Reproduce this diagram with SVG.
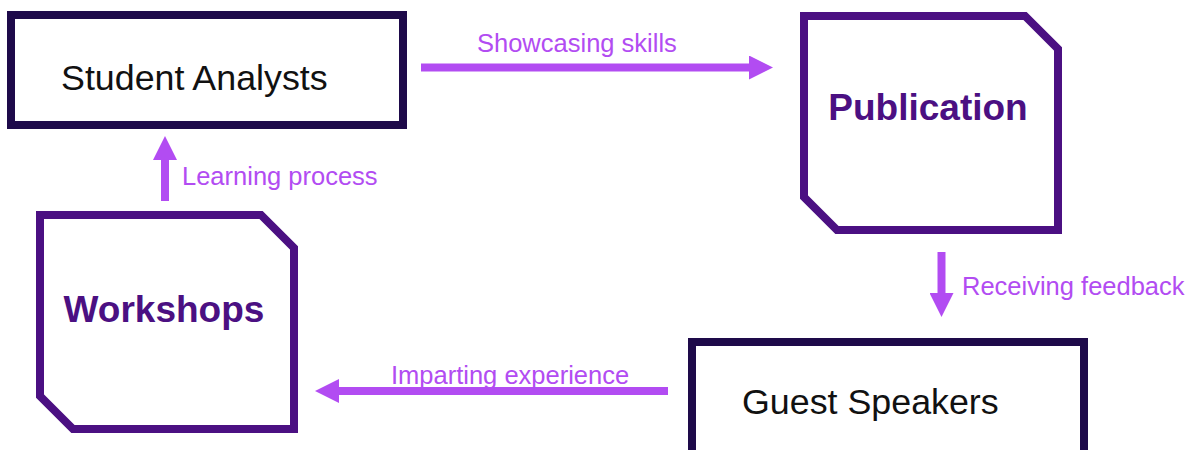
<svg xmlns="http://www.w3.org/2000/svg" width="1192" height="450" viewBox="0 0 1192 450">
  <style>
    .plain { fill: #ffffff; stroke: #1e0a4a; stroke-width: 8; }
    .facet { fill: #ffffff; stroke: #4b1082; stroke-width: 8; stroke-linejoin: miter; }
    .plain-text { font-family: "Liberation Sans", Arial, sans-serif; font-size: 35.8px; fill: #111111; }
    .bold-text { font-family: "Liberation Sans", Arial, sans-serif; font-size: 37px; font-weight: bold; fill: #4b1082; text-anchor: middle; }
    .flow { stroke: #b24cf2; stroke-width: 8; fill: none; }
    .flow-label { font-family: "Liberation Sans", Arial, sans-serif; font-size: 25.5px; fill: #b24cf2; }
  </style>
  <defs>
    <marker id="head" markerUnits="userSpaceOnUse" markerWidth="24" markerHeight="24" refX="1" refY="12" orient="auto">
      <path d="M0,0 L24,12 L0,24 Z" fill="#b24cf2"/>
    </marker>
  </defs>
  <rect width="1192" height="450" fill="#ffffff"/>

  <g id="student-analysts">
    <rect class="plain" x="11" y="15" width="392" height="110"/>
    <text class="plain-text" x="61" y="90">Student Analysts</text>
  </g>

  <g id="publication">
    <path class="facet" d="M804,16 L1025,16 L1058,49 L1058,230 L837,230 L804,197 Z"/>
    <text class="bold-text" x="928" y="120">Publication</text>
  </g>

  <g id="workshops">
    <path class="facet" d="M40,215 L261,215 L294,248 L294,429 L73,429 L40,396 Z"/>
    <text class="bold-text" x="164" y="322">Workshops</text>
  </g>

  <g id="guest-speakers">
    <rect class="plain" x="692" y="342" width="392" height="130"/>
    <text class="plain-text" x="742" y="414">Guest Speakers</text>
  </g>

  <g id="connectors">
    <line class="flow" x1="421" y1="67.5" x2="750" y2="67.5" marker-end="url(#head)"/>
    <text class="flow-label" x="477" y="52">Showcasing skills</text>

    <line class="flow" x1="941.5" y1="252" x2="941.5" y2="294" marker-end="url(#head)"/>
    <text class="flow-label" x="962" y="295">Receiving feedback</text>

    <line class="flow" x1="668" y1="391" x2="338" y2="391" marker-end="url(#head)"/>
    <text class="flow-label" x="391" y="384">Imparting experience</text>

    <line class="flow" x1="165" y1="201" x2="165" y2="159" marker-end="url(#head)"/>
    <text class="flow-label" x="182" y="185">Learning process</text>
  </g>
</svg>
